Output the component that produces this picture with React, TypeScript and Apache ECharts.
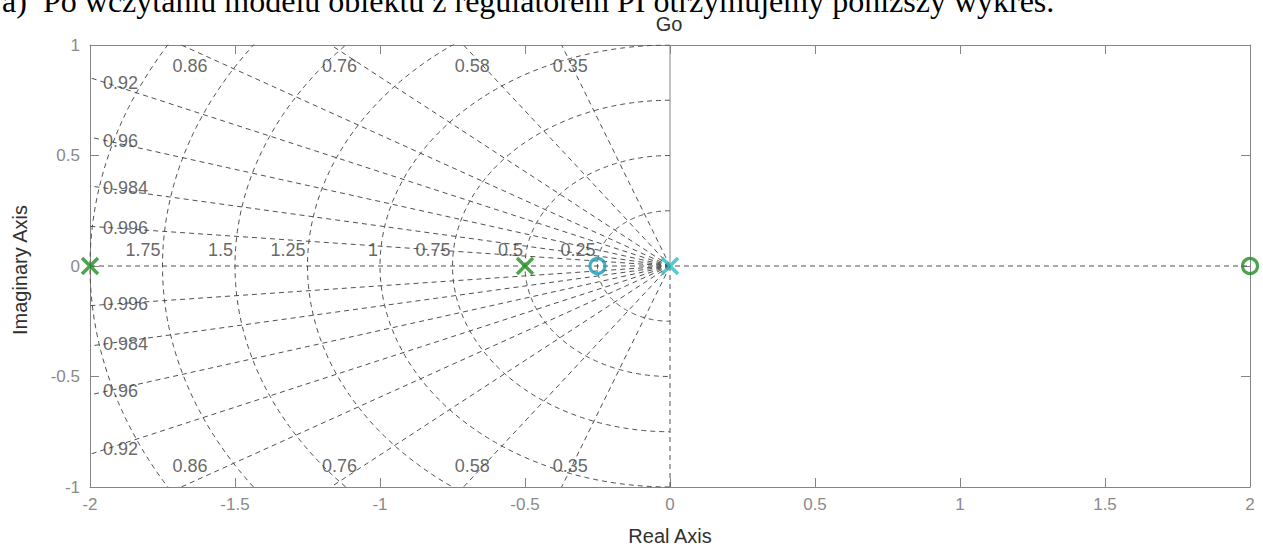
import React, { useEffect, useRef } from 'react';
import * as echarts from 'echarts';

const FONT = '"Liberation Sans", Arial, Helvetica, sans-serif';
const SERIF = '"Liberation Serif", "Times New Roman", serif';

const headingLabel = 'a)';
const headingText = 'Po wczytaniu modelu obiektu z regulatorem PI otrzymujemy poniższy wykres.';
const chartTitle = 'Go';
const xAxisName = 'Real Axis';
const yAxisName = 'Imaginary Axis';

// axis ranges
const xRange = [-2, 2];
const yRange = [-1, 1];
const xStep = 0.5;
const yStep = 0.5;

// poles (x) and zeros (o)
const polesGreen: number[][] = [[-2, 0], [-0.5, 0]];
const zerosGreen: number[][] = [[2, 0]];
const polesCyan: number[][] = [[0, 0]];
const zerosCyan: number[][] = [[-0.25, 0]];

// s-plane grid (sgrid) parameters
const dampingRatios = [0.35, 0.58, 0.76, 0.86, 0.92, 0.96, 0.984, 0.996];
const naturalFreqs = [0.25, 0.5, 0.75, 1, 1.25, 1.5, 1.75, 2];
const labeledFreqs = [0.25, 0.5, 0.75, 1, 1.25, 1.5, 1.75];

const GREEN = '#1f8f22';
const CYAN = '#2cbcc6';
const TEAL = '#1a9cb8';
const GRID = '#505050';
const AXIS = '#858585';

function buildOption() {
  const [X_MIN, X_MAX] = xRange;
  const [Y_MIN, Y_MAX] = yRange;

  const dashed = { color: GRID, width: 1, type: [5, 4] as any };
  const gridSeries: any[] = [];
  const lineBase = {
    type: 'line',
    showSymbol: false,
    symbol: 'none',
    silent: true,
    clip: true,
    z: 1,
    animation: false,
  };

  // damping rays
  dampingRatios.forEach((z) => {
    const s = Math.sqrt(1 - z * z);
    const t = Math.min(-X_MIN / z, Y_MAX / s);
    [1, -1].forEach((sign) => {
      gridSeries.push({
        ...lineBase,
        data: [[0, 0], [-z * t, sign * s * t]],
        lineStyle: dashed,
      });
    });
  });

  // natural frequency arcs (left half plane)
  naturalFreqs.forEach((w) => {
    const pts: number[][] = [];
    for (let k = 0; k <= 180; k++) {
      const th = Math.PI / 2 + (Math.PI * k) / 180;
      pts.push([w * Math.cos(th), w * Math.sin(th)]);
    }
    gridSeries.push({ ...lineBase, data: pts, lineStyle: dashed });
  });

  // real axis line and imaginary axis
  gridSeries.push({ ...lineBase, data: [[X_MIN, 0], [X_MAX, 0]], lineStyle: dashed });
  gridSeries.push({ ...lineBase, data: [[0, 0], [0, Y_MIN]], lineStyle: dashed });
  gridSeries.push({
    ...lineBase,
    data: [[0, 0], [0, Y_MAX]],
    lineStyle: { color: AXIS, width: 1, type: 'solid' },
  });

  // grid labels
  const labelItems: any[] = [];
  dampingRatios.forEach((z) => {
    const s = Math.sqrt(1 - z * z);
    const hitsSide = -X_MIN / z < Y_MAX / s;
    [1, -1].forEach((sign) => {
      if (hitsSide) {
        const y = sign * s * (-X_MIN / z) * 0.97;
        labelItems.push({
          value: [X_MIN + 0.045, y],
          label: { formatter: String(z), align: 'left' },
        });
      } else {
        const x = -z * (Y_MAX / s);
        labelItems.push({
          value: [x + 0.03, sign * 0.905],
          label: { formatter: String(z), align: 'center' },
        });
      }
    });
  });
  labeledFreqs.forEach((w) => {
    labelItems.push({
      value: [-w - 0.007, 0.072],
      label: { formatter: String(w), align: 'right' },
    });
  });

  const labelSeries = {
    type: 'scatter',
    silent: true,
    symbolSize: 0.1,
    itemStyle: { color: 'transparent' },
    z: 2,
    clip: false,
    data: labelItems,
    label: {
      show: true,
      position: 'inside',
      verticalAlign: 'middle',
      color: '#404040',
      fontSize: 18,
      fontFamily: FONT,
    },
  };

  const xMark = 'path://M0,0L10,10M10,0L0,10';
  const markerBase = { type: 'scatter', silent: true, clip: false, z: 5 };
  const markerSeries = [
    {
      ...markerBase,
      data: polesGreen,
      symbol: xMark,
      symbolSize: 16,
      itemStyle: { color: 'transparent', borderColor: GREEN, borderWidth: 3.5 },
    },
    {
      ...markerBase,
      data: zerosGreen,
      symbol: 'circle',
      symbolSize: 15,
      itemStyle: { color: 'transparent', borderColor: GREEN, borderWidth: 3.2 },
    },
    {
      ...markerBase,
      data: zerosCyan,
      symbol: 'circle',
      symbolSize: 15,
      itemStyle: { color: 'transparent', borderColor: TEAL, borderWidth: 3.2 },
    },
    {
      ...markerBase,
      data: polesCyan,
      symbol: xMark,
      symbolSize: 16,
      itemStyle: { color: 'transparent', borderColor: CYAN, borderWidth: 3.5 },
    },
  ];

  const tickLabel = { color: '#8a8a8a', fontSize: 17, fontFamily: FONT };
  const axisCommon = {
    type: 'value',
    axisLine: { show: true, onZero: false, lineStyle: { color: AXIS, width: 1 } },
    axisTick: { show: true, inside: true, length: 9, lineStyle: { color: AXIS, width: 1 } },
    splitLine: { show: false },
  };

  return {
    animation: false,
    backgroundColor: '#ffffff',
    grid: { left: 90, right: 13, top: 45, bottom: 62, containLabel: false, outerBoundsMode: 'none' },
    xAxis: [
      {
        ...axisCommon,
        position: 'bottom',
        min: X_MIN,
        max: X_MAX,
        interval: xStep,
        axisLabel: { ...tickLabel, margin: 9 },
      },
      {
        ...axisCommon,
        position: 'top',
        min: X_MIN,
        max: X_MAX,
        interval: xStep,
        axisLabel: { show: false },
      },
    ],
    yAxis: [
      {
        ...axisCommon,
        position: 'left',
        min: Y_MIN,
        max: Y_MAX,
        interval: yStep,
        axisLabel: { ...tickLabel, margin: 10 },
      },
      {
        ...axisCommon,
        position: 'right',
        min: Y_MIN,
        max: Y_MAX,
        interval: yStep,
        axisLabel: { show: false },
      },
    ],
    series: [...gridSeries, labelSeries, ...markerSeries],
    graphic: [
      {
        type: 'text',
        x: 2,
        y: 1,
        style: { text: headingLabel, fontSize: 32, fontFamily: SERIF, fill: '#000', verticalAlign: 'middle', align: 'left' },
      },
      {
        type: 'text',
        x: 43,
        y: 1,
        style: { text: headingText, fontSize: 32, fontFamily: SERIF, fill: '#000', verticalAlign: 'middle', align: 'left' },
      },
      {
        type: 'text',
        x: 669,
        y: 24,
        style: { text: chartTitle, fontSize: 20, fontFamily: FONT, fill: '#303030', align: 'center', verticalAlign: 'middle' },
      },
      {
        type: 'text',
        x: 670,
        y: 536,
        style: { text: xAxisName, fontSize: 20, fontFamily: FONT, fill: '#303030', align: 'center', verticalAlign: 'middle' },
      },
      {
        type: 'text',
        x: 20,
        y: 270,
        rotation: Math.PI / 2,
        style: { text: yAxisName, fontSize: 20, fontFamily: FONT, fill: '#303030', align: 'center', verticalAlign: 'middle' },
      },
    ],
  };
}

export default function App() {
  const ref = useRef<HTMLDivElement>(null);
  useEffect(() => {
    if (!ref.current) return;
    const chart = echarts.init(ref.current, undefined, { renderer: 'svg' });
    chart.setOption(buildOption() as any);
    return () => chart.dispose();
  }, []);
  return (
    <div
      ref={ref}
      style={{ position: 'fixed', left: 0, top: 0, width: 1263, height: 549, background: '#fff' }}
    />
  );
}
